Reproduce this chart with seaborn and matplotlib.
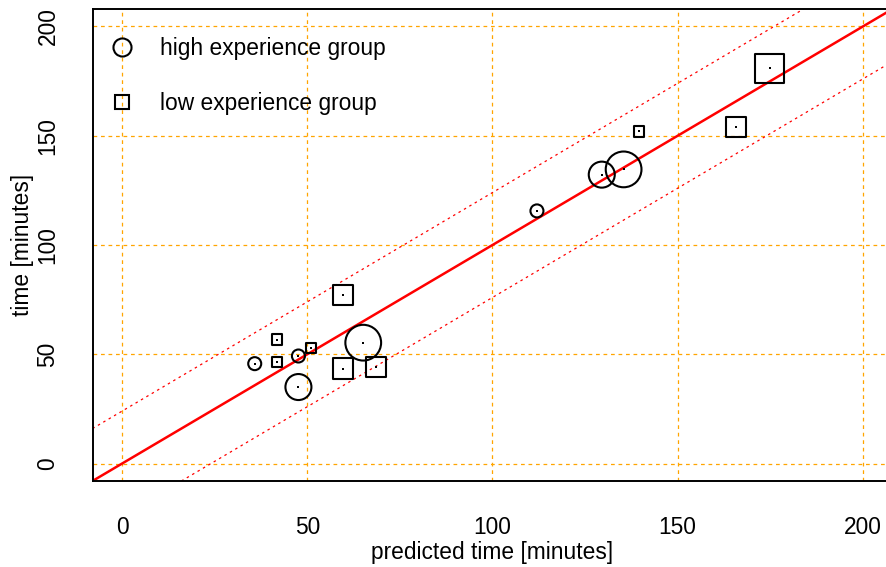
import matplotlib
matplotlib.use("Agg")
import matplotlib.pyplot as plt
from matplotlib.lines import Line2D
import seaborn as sns
import pandas as pd

# data
high_pred = [35.8, 47.6, 47.6, 65.1, 112.0, 129.5, 135.4]
high_time = [45.7, 49.2, 35.0, 55.3, 115.6, 132.2, 134.6]
high_weight = [1, 1, 2, 2.75, 1, 2, 2.75]

low_pred = [41.9, 41.9, 50.9, 59.6, 59.6, 68.5, 139.5, 165.8, 174.8]
low_time = [56.7, 46.6, 53.0, 77.2, 43.4, 44.2, 152.0, 154.0, 180.8]
low_weight = [1, 1, 1, 2, 2, 2, 1, 2, 2.75]

groups = ["high experience group", "low experience group"]
band = 24  # offset of the dotted lines around y = x
ticks = [0, 50, 100, 150, 200]

df = pd.concat([
    pd.DataFrame({"predicted": high_pred, "time": high_time,
                  "weight": high_weight, "group": groups[0]}),
    pd.DataFrame({"predicted": low_pred, "time": low_time,
                  "weight": low_weight, "group": groups[1]}),
], ignore_index=True)

sns.set_style("white")
plt.rcParams["font.family"] = ["Liberation Sans", "DejaVu Sans"]
plt.rcParams["text.color"] = "black"
plt.rcParams["axes.labelcolor"] = "black"
fs = 16.4

fig = plt.figure(figsize=(8.86, 5.67), dpi=100)
ax = fig.add_axes([92.5 / 886, 1 - 481 / 567, 800 / 886, 472 / 567])

ax.set_xlim(-8, 208)
ax.set_ylim(-8, 208)
ax.set_xticks(ticks)
ax.set_yticks(ticks)
ax.grid(True, color="orange", linestyle=(0, (3, 3)), linewidth=0.9)
ax.set_axisbelow(True)

# reference lines
ax.axline((0, 0), slope=1, color="red", lw=1.8, zorder=2)
ax.axline((0, band), slope=1, color="red", lw=0.9, ls=(0, (2, 3)), zorder=2)
ax.axline((0, -band), slope=1, color="red", lw=0.9, ls=(0, (2, 3)), zorder=2)

# open markers, size by weight
marker_base = {groups[0]: ("o", 9.36), groups[1]: ("s", 7.4)}
for grp in groups:
    sub = df[df["group"] == grp]
    marker, base = marker_base[grp]
    sizes = {w: (base * w) ** 2 for w in sub["weight"].unique()}
    sns.scatterplot(data=sub, x="predicted", y="time", size="weight",
                    sizes=sizes, marker=marker, facecolor="none",
                    edgecolor="black", linewidth=1.5, legend=False,
                    ax=ax, zorder=3)

# centre dots
sns.scatterplot(data=df, x="predicted", y="time", color="black", s=3,
                marker="s", linewidth=0, legend=False, ax=ax, zorder=4)

handles = [
    Line2D([], [], marker="o", ls="none", mfc="none", mec="black", ms=13, mew=1.5),
    Line2D([], [], marker="s", ls="none", mfc="none", mec="black", ms=9.6, mew=1.5),
]
leg = ax.legend(handles, groups, loc="upper left", bbox_to_anchor=(0.0225, 0.941),
                frameon=False, fontsize=fs, handlelength=1.0, handletextpad=1.17,
                labelspacing=1.43, borderpad=0, borderaxespad=0)
for t in leg.get_texts():
    t.set_color("black")

for s in ax.spines.values():
    s.set_color("black")
    s.set_linewidth(1.4)
ax.tick_params(axis="both", direction="out", length=6.5, width=1.4,
               colors="black", labelsize=fs)
ax.tick_params(axis="x", pad=18.7)
ax.tick_params(axis="y", pad=17.3, labelrotation=90)
for lab in ax.get_yticklabels():
    lab.set_va("center")

ax.set_xlabel("predicted time [minutes]", fontsize=fs, color="black")
ax.set_ylabel("time [minutes]", fontsize=fs, color="black")
ax.xaxis.set_label_coords(0.5, (481 - 541) / 472)
ax.yaxis.set_label_coords((23 - 92.5) / 800, 0.5)
ax.yaxis.label.set_va("center")

fig.savefig("out.png", dpi=100)
